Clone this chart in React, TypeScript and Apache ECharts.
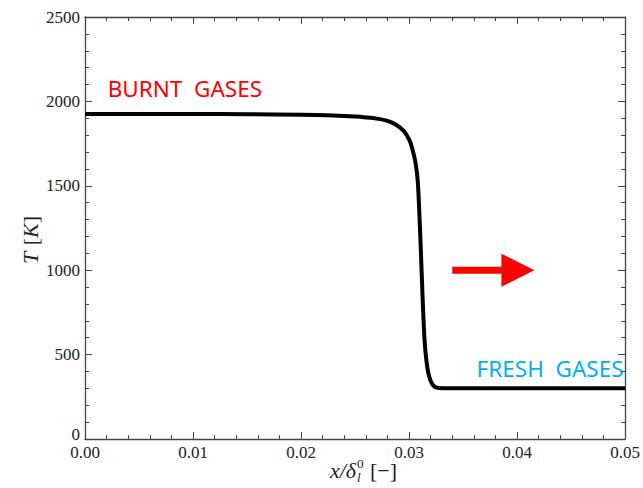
import React, { useEffect, useRef } from "react";
import * as echarts from "echarts";

const xValues = [0, 0.01, 0.015, 0.02, 0.023, 0.025, 0.026, 0.027, 0.028, 0.0288, 0.0295, 0.03, 0.0303, 0.0306, 0.0308, 0.03095, 0.0311, 0.03125, 0.0314, 0.03153, 0.0317, 0.03187, 0.0321, 0.0324, 0.0328, 0.034, 0.05];
const temperature = [1925, 1925, 1924, 1921, 1916, 1910, 1905, 1898, 1885, 1862, 1825, 1775, 1720, 1635, 1530, 1339, 1100, 841, 620, 509, 420, 369, 330, 308, 302, 300, 300];
const xTicks = [0, 0.01, 0.02, 0.03, 0.04, 0.05];
const yTicks = [0, 500, 1000, 1500, 2000, 2500];

const burntLabel = { text: "BURNT  GASES", x: 0.0021, y: 2075 };
const freshLabel = { text: "FRESH  GASES", x: 0.04985, y: 420 };
const arrow = { x0: 0.034, x1: 0.0416, y: 1000 };

const SERIF = "Liberation Serif";

export default function App() {
  const ref = useRef<HTMLDivElement>(null);
  useEffect(() => {
    document.body.style.margin = "0";
    const chart = echarts.init(ref.current!, null, { renderer: "svg" });
    const lab = { fontFamily: SERIF, fontSize: 17, color: "#222" };
    const axisBase = (pos: string, showLabel: boolean, isX: boolean) => ({
      type: "value",
      position: pos,
      min: isX ? xTicks[0] : yTicks[0],
      max: isX ? xTicks[xTicks.length - 1] : yTicks[yTicks.length - 1],
      interval: isX ? xTicks[1] - xTicks[0] : yTicks[1] - yTicks[0],
      axisLine: { show: true, onZero: false, lineStyle: { color: "#444", width: 1.3 } },
      axisTick: { show: true, inside: true, length: 7, lineStyle: { color: "#444", width: 1 } },
      minorTick: { show: true, splitNumber: 5, length: 4, lineStyle: { color: "#444", width: 1 } },
      splitLine: { show: false },
      axisLabel: showLabel
        ? {
            ...lab,
            margin: isX ? 5 : 5,
            formatter: (v: number) =>
              isX ? `{a|${v.toFixed(2)}}` : v === 0 ? `{z|0}` : `{a|${v}}`,
            rich: {
              a: { ...lab },
              z: { ...lab, padding: [0, 0, 9, 0] },
            },
          }
        : { show: false },
    });
    chart.setOption({
      animation: false,
      textStyle: { fontFamily: SERIF },
      grid: { left: 85, right: 14, top: 17, bottom: 49 },
      xAxis: [axisBase("bottom", true, true), axisBase("top", false, true)],
      yAxis: [axisBase("left", true, false), axisBase("right", false, false)],
      series: [
        {
          type: "line",
          data: xValues.map((x, i) => [x, temperature[i]]),
          showSymbol: false,
          smooth: 0.3,
          lineStyle: { color: "#000", width: 4 },
        },
      ],
    });
    const p = (x: number, y: number) => chart.convertToPixel({ xAxisIndex: 0, yAxisIndex: 0 }, [x, y]);
    const b = p(burntLabel.x, burntLabel.y);
    const f = p(freshLabel.x, freshLabel.y);
    const a0 = p(arrow.x0, arrow.y);
    const a1 = p(arrow.x1, arrow.y);
    const headLen = 33;
    const headHalf = 16.5;
    const shaft = 3.5;
    chart.setOption({
      graphic: [
        {
          type: "text",
          x: b[0],
          y: b[1],
          style: { text: burntLabel.text, fill: "#ff0000", fontFamily: "Noto Sans", fontSize: 22.5, align: "left", verticalAlign: "middle" },
        },
        {
          type: "text",
          x: f[0],
          y: f[1],
          style: { text: freshLabel.text, fill: "#00b0f0", fontFamily: "Noto Sans", fontSize: 22.5, align: "right", verticalAlign: "middle" },
        },
        {
          type: "polygon",
          shape: {
            points: [
              [a0[0], a0[1] - shaft],
              [a1[0] - headLen, a0[1] - shaft],
              [a1[0] - headLen, a0[1] - headHalf],
              [a1[0], a1[1]],
              [a1[0] - headLen, a0[1] + headHalf],
              [a1[0] - headLen, a0[1] + shaft],
              [a0[0], a0[1] + shaft],
            ],
          },
          style: { fill: "#ff0000" },
        },
        {
          type: "text",
          x: 30,
          y: 240,
          rotation: Math.PI / 2,
          style: {
            text: "{i|T}  {n|[}{i|K}{n|]}",
            align: "center",
            verticalAlign: "middle",
            rich: {
              i: { fontFamily: SERIF, fontStyle: "italic", fontSize: 22, fill: "#222" },
              n: { fontFamily: SERIF, fontSize: 22, fill: "#222" },
            },
          },
        },
        {
          type: "group",
          x: 356,
          y: 470,
          children: [
            { type: "text", x: 0, y: 0, style: { text: "x/δ", fontFamily: SERIF, fontStyle: "italic", fontSize: 22, fill: "#222", align: "right", verticalAlign: "middle" } },
            { type: "text", x: 1, y: -7, style: { text: "0", fontFamily: SERIF, fontSize: 13, fill: "#222", align: "left", verticalAlign: "middle" } },
            { type: "text", x: 1, y: 7, style: { text: "l", fontFamily: SERIF, fontStyle: "italic", fontSize: 13, fill: "#222", align: "left", verticalAlign: "middle" } },
            { type: "text", x: 14, y: 0, style: { text: "[−]", fontFamily: SERIF, fontSize: 22, fill: "#222", align: "left", verticalAlign: "middle" } },
          ],
        },
      ],
    });
    return () => chart.dispose();
  }, []);
  return <div ref={ref} style={{ width: 643, height: 488 }} />;
}
